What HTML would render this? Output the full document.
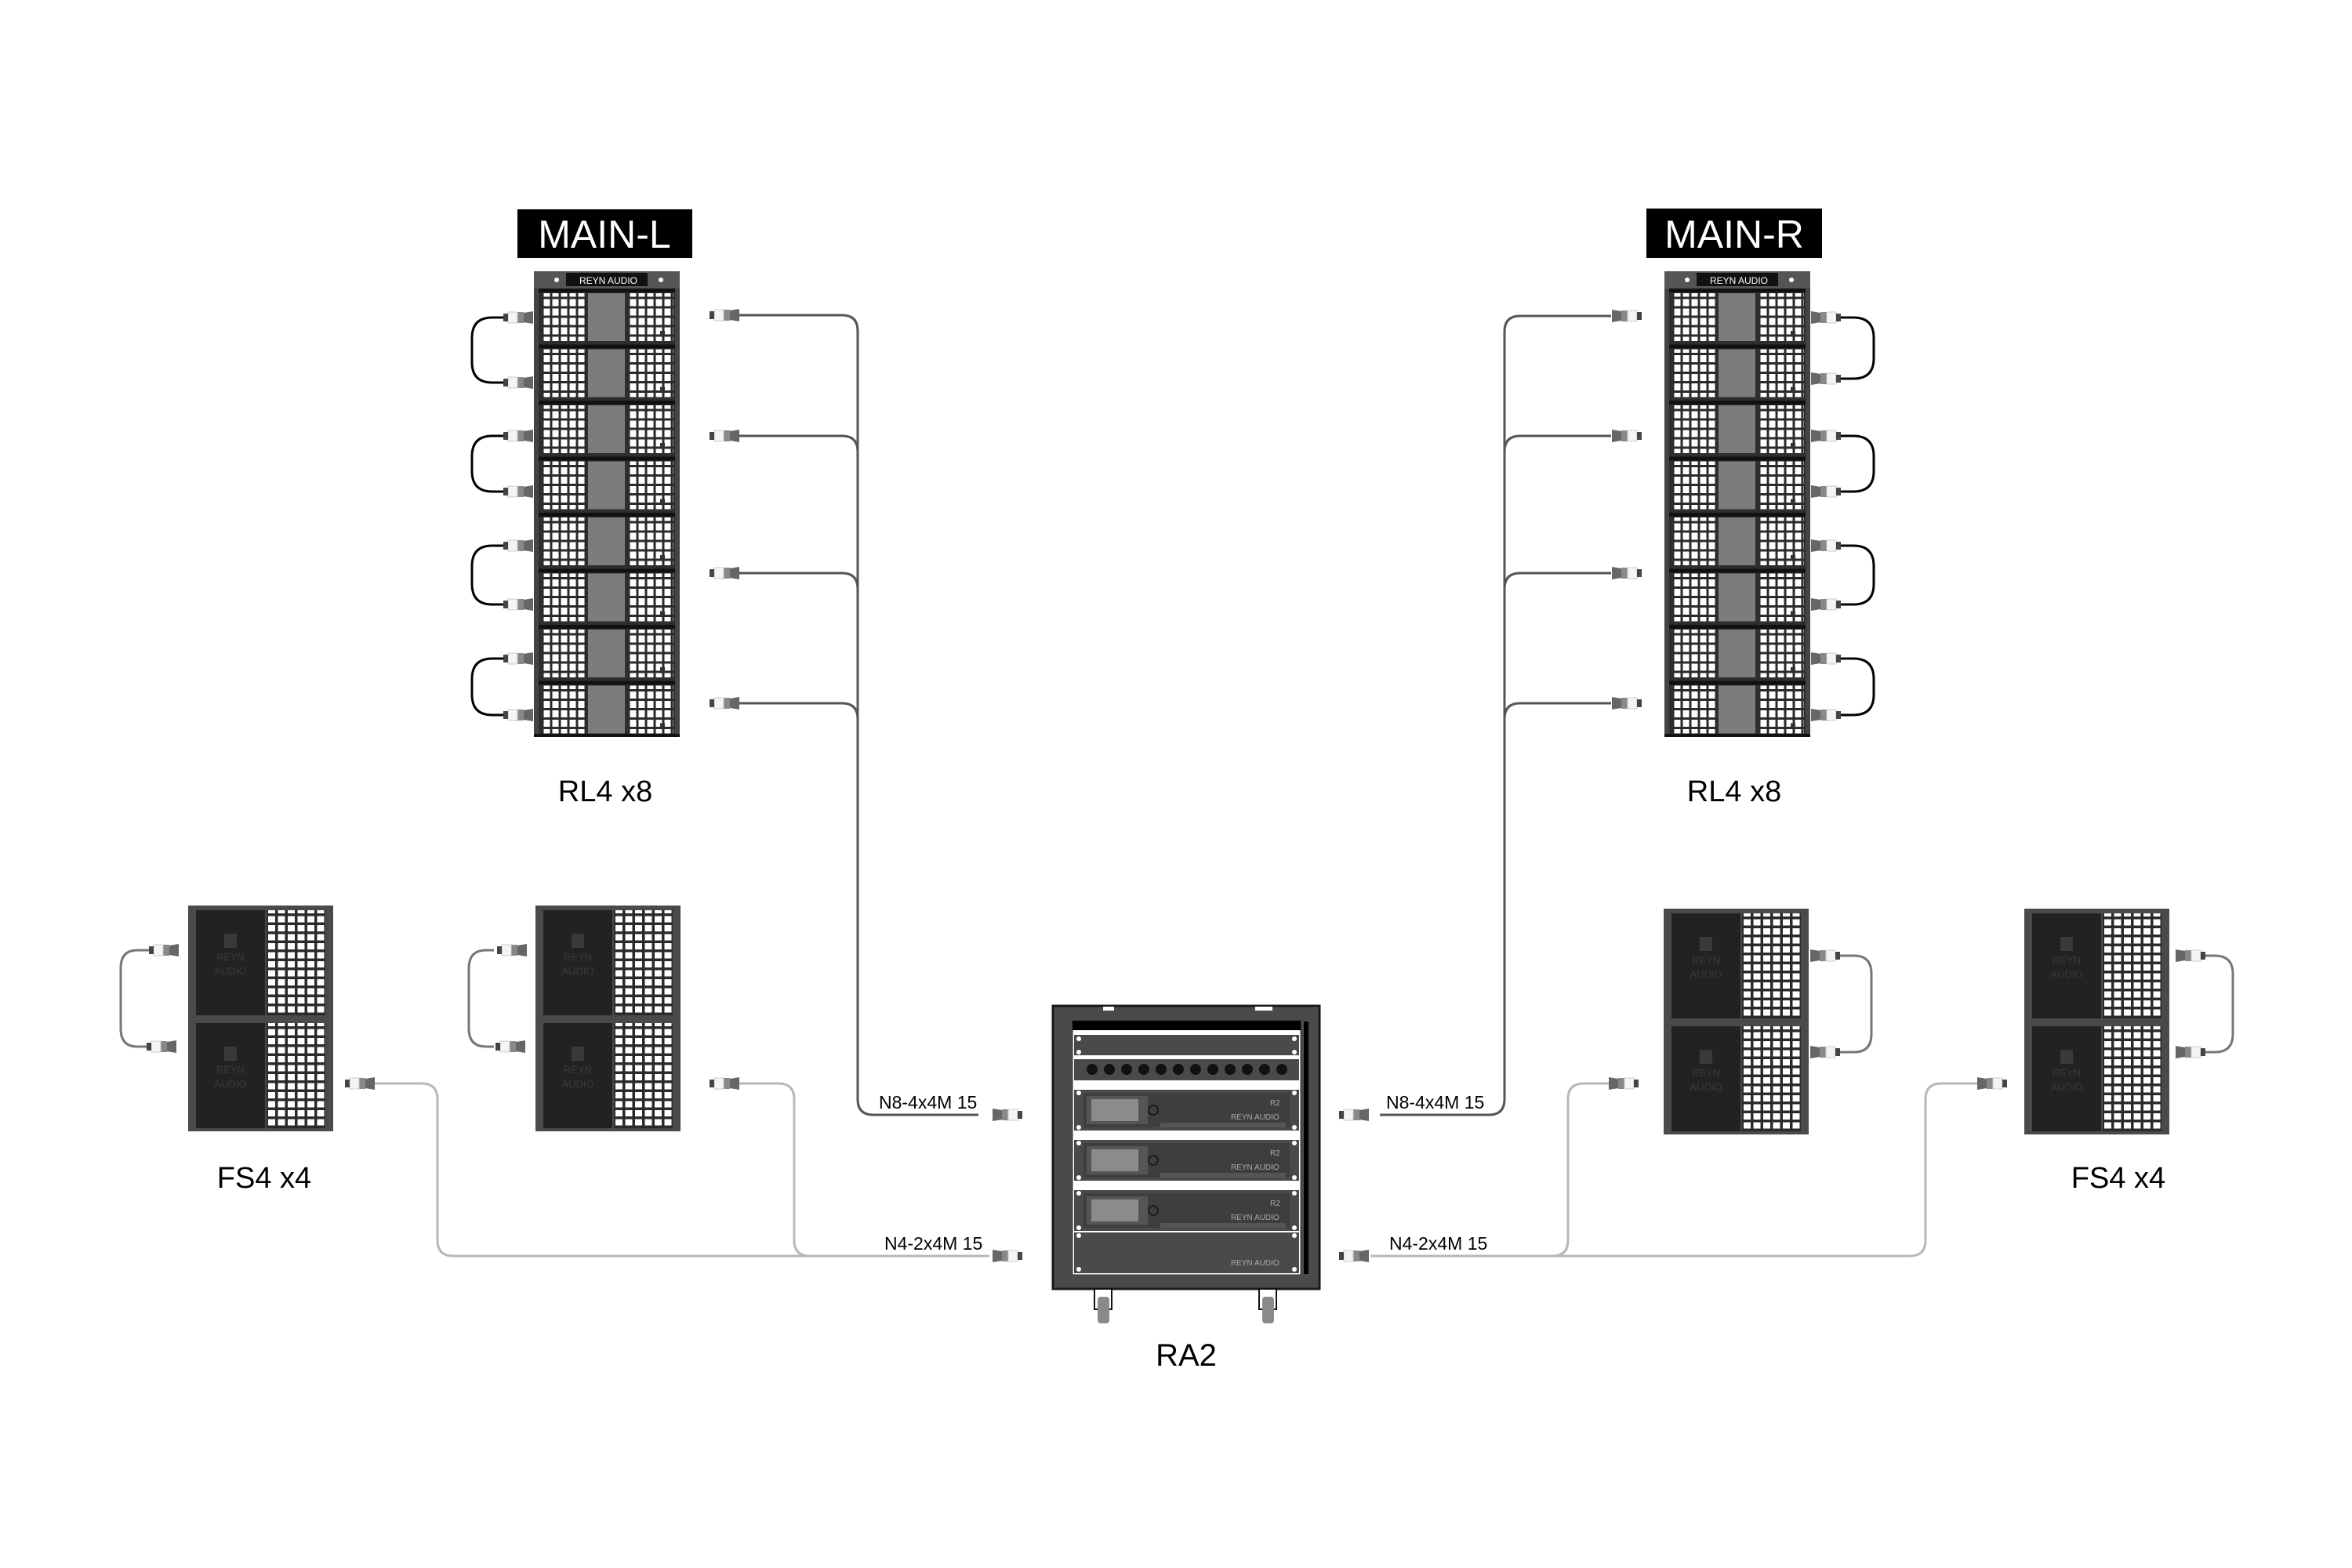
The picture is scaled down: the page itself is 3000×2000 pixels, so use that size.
<!DOCTYPE html>
<html><head><meta charset="utf-8"><style>
html,body{margin:0;padding:0;background:#fff;}
svg{display:block;}
text{font-family:"Liberation Sans","Noto Sans CJK SC",sans-serif;}
</style></head><body>
<svg width="3000" height="2000" viewBox="0 0 3000 2000" xmlns="http://www.w3.org/2000/svg">
<defs>
<pattern id="grid" x="0" y="0" width="11" height="12" patternUnits="userSpaceOnUse">
<rect width="11" height="12" fill="#2a2a2a"/><rect x="1.5" y="1.5" width="8" height="9" fill="#fff"/>
</pattern>
<pattern id="grid2" x="0" y="0" width="12.5" height="11.5" patternUnits="userSpaceOnUse">
<rect width="12.5" height="11.5" fill="#2a2a2a"/><rect x="2" y="2" width="9" height="8" fill="#fff"/>
</pattern>
<g id="rl4">
<rect x="0" y="0" width="186" height="71.5" fill="#2e2e2e"/>
<rect x="0" y="0" width="186" height="5" fill="#111"/>
<rect x="11" y="6" width="56" height="61" fill="url(#grid)"/>
<rect x="69" y="6" width="47" height="61" fill="#7c7c7c"/>
<rect x="122" y="6" width="56" height="61" fill="url(#grid)"/>
<rect x="0" y="0" width="6" height="71.5" fill="#444"/>
<rect x="180" y="0" width="6" height="71.5" fill="#444"/>
<rect x="161" y="54" width="6" height="6" fill="#333"/>
</g>
<g id="fs4">
<rect x="0" y="0" width="185" height="144" fill="#4a4a4a"/>
<rect x="10" y="6" width="88" height="134" fill="#222"/>
<rect x="100" y="6" width="75" height="134" fill="url(#grid2)"/>
<text x="54" y="70" font-size="13" fill="#3a3a3a" text-anchor="middle">REYN</text>
<text x="54" y="88" font-size="13" fill="#3a3a3a" text-anchor="middle">AUDIO</text>
<rect x="46" y="36" width="16" height="18" fill="#3a3a3a"/>
</g>
<g id="conn">
<path d="M0,-8 L12,-6 L12,6 L0,8 Z" fill="#666"/>
<rect x="12" y="-7" width="8" height="14" fill="#888"/>
<rect x="20" y="-7" width="12" height="14" fill="#f4f4f4" stroke="#ccc" stroke-width="1"/>
<rect x="32" y="-5" width="6" height="10" fill="#444"/>
</g>
<g id="amp">
<rect x="0" y="0" width="287" height="52" fill="#4a4a4a"/>
<rect x="12" y="4" width="263" height="44" fill="#3e3e3e"/>
<rect x="16" y="8" width="78" height="36" fill="#555"/>
<rect x="22" y="12" width="60" height="28" fill="#999" opacity="0.8"/>
<circle cx="101" cy="26" r="6" fill="none" stroke="#111" stroke-width="1.5"/>
<rect x="110" y="42" width="160" height="6" fill="#555"/>
<text x="250" y="20" font-size="10" fill="#aaa" font-family="Liberation Serif,serif">R2</text>
<text x="200" y="38" font-size="10" fill="#aaa" font-family="Liberation Serif,serif">REYN AUDIO</text>
<circle cx="6" cy="4" r="3" fill="#fff"/><circle cx="6" cy="48" r="3" fill="#fff"/>
<circle cx="281" cy="4" r="3" fill="#fff"/><circle cx="281" cy="48" r="3" fill="#fff"/>
</g>
</defs>

<!-- ===== MAIN-L ===== -->
<rect x="660" y="267" width="223" height="62" fill="#000"/>
<text x="771" y="316" font-size="50" fill="#fff" text-anchor="middle">MAIN-L</text>
<rect x="681" y="346" width="186" height="22" fill="#555"/>
<rect x="722" y="348" width="104" height="17" fill="#111"/>
<text x="776" y="362" font-size="12" fill="#fff" text-anchor="middle">REYN AUDIO</text>
<circle cx="710" cy="357" r="3" fill="#fff"/><circle cx="843" cy="357" r="3" fill="#fff"/>
<use href="#rl4" x="681" y="368"/><use href="#rl4" x="681" y="439.5"/>
<use href="#rl4" x="681" y="511"/><use href="#rl4" x="681" y="582.5"/>
<use href="#rl4" x="681" y="654"/><use href="#rl4" x="681" y="725.5"/>
<use href="#rl4" x="681" y="797"/><use href="#rl4" x="681" y="868.5"/>
<rect x="681" y="936" width="186" height="4" fill="#111"/>
<text x="772" y="1022" font-size="38" fill="#000" text-anchor="middle">RL4 x8</text>
<g fill="none" stroke="#000" stroke-width="3">
<path d="M645,405 H628 Q602,405 602,431 V462 Q602,488 628,488 H645"/>
<path d="M645,556 H628 Q602,556 602,582 V601 Q602,627 628,627 H645"/>
<path d="M645,696 H628 Q602,696 602,722 V745 Q602,771 628,771 H645"/>
<path d="M645,840 H628 Q602,840 602,866 V886 Q602,912 628,912 H645"/>
</g>
<g transform="translate(680,405) scale(-1,1)"><use href="#conn"/></g>
<g transform="translate(680,488) scale(-1,1)"><use href="#conn"/></g>
<g transform="translate(680,556) scale(-1,1)"><use href="#conn"/></g>
<g transform="translate(680,627) scale(-1,1)"><use href="#conn"/></g>
<g transform="translate(680,696) scale(-1,1)"><use href="#conn"/></g>
<g transform="translate(680,771) scale(-1,1)"><use href="#conn"/></g>
<g transform="translate(680,840) scale(-1,1)"><use href="#conn"/></g>
<g transform="translate(680,912) scale(-1,1)"><use href="#conn"/></g>
<g fill="none" stroke="#555" stroke-width="3">
<path d="M943,402 H1074 Q1094,402 1094,422 V1402 Q1094,1422 1114,1422 H1248"/>
<path d="M943,556 H1074 Q1094,556 1094,576"/>
<path d="M943,731 H1074 Q1094,731 1094,751"/>
<path d="M943,897 H1074 Q1094,897 1094,917"/>
</g>
<g transform="translate(943,402) scale(-1,1)"><use href="#conn"/></g>
<g transform="translate(943,556) scale(-1,1)"><use href="#conn"/></g>
<g transform="translate(943,731) scale(-1,1)"><use href="#conn"/></g>
<g transform="translate(943,897) scale(-1,1)"><use href="#conn"/></g>

<!-- ===== MAIN-R ===== -->
<rect x="2100" y="266" width="224" height="63" fill="#000"/>
<text x="2212" y="316" font-size="50" fill="#fff" text-anchor="middle">MAIN-R</text>
<rect x="2123" y="346" width="186" height="22" fill="#555"/>
<rect x="2164" y="348" width="104" height="17" fill="#111"/>
<text x="2218" y="362" font-size="12" fill="#fff" text-anchor="middle">REYN AUDIO</text>
<circle cx="2152" cy="357" r="3" fill="#fff"/><circle cx="2285" cy="357" r="3" fill="#fff"/>
<use href="#rl4" x="2123" y="368"/><use href="#rl4" x="2123" y="439.5"/>
<use href="#rl4" x="2123" y="511"/><use href="#rl4" x="2123" y="582.5"/>
<use href="#rl4" x="2123" y="654"/><use href="#rl4" x="2123" y="725.5"/>
<use href="#rl4" x="2123" y="797"/><use href="#rl4" x="2123" y="868.5"/>
<rect x="2123" y="936" width="186" height="4" fill="#111"/>
<text x="2212" y="1022" font-size="38" fill="#000" text-anchor="middle">RL4 x8</text>
<g fill="none" stroke="#000" stroke-width="3">
<path d="M2345,405 H2364 Q2390,405 2390,431 V457 Q2390,483 2364,483 H2345"/>
<path d="M2345,556 H2364 Q2390,556 2390,582 V601 Q2390,627 2364,627 H2345"/>
<path d="M2345,696 H2364 Q2390,696 2390,722 V745 Q2390,771 2364,771 H2345"/>
<path d="M2345,840 H2364 Q2390,840 2390,866 V886 Q2390,912 2364,912 H2345"/>
</g>
<use href="#conn" x="2310" y="405"/><use href="#conn" x="2310" y="483"/>
<use href="#conn" x="2310" y="556"/><use href="#conn" x="2310" y="627"/>
<use href="#conn" x="2310" y="696"/><use href="#conn" x="2310" y="771"/>
<use href="#conn" x="2310" y="840"/><use href="#conn" x="2310" y="912"/>
<g fill="none" stroke="#555" stroke-width="3">
<path d="M2055,403 H1939 Q1919,403 1919,423 V1402 Q1919,1422 1899,1422 H1760"/>
<path d="M2055,556 H1939 Q1919,556 1919,576"/>
<path d="M2055,731 H1939 Q1919,731 1919,751"/>
<path d="M2055,897 H1939 Q1919,897 1919,917"/>
</g>
<use href="#conn" x="2056" y="403"/><use href="#conn" x="2056" y="556"/>
<use href="#conn" x="2056" y="731"/><use href="#conn" x="2056" y="897"/>

<!-- ===== FS4 left ===== -->
<g transform="translate(0,-5)">
<use href="#fs4" x="240" y="1160"/><use href="#fs4" x="240" y="1304"/>
<use href="#fs4" x="683" y="1160"/><use href="#fs4" x="683" y="1304"/>
<g fill="none" stroke="#777" stroke-width="3">
<path d="M190,1217 H175 Q154,1217 154,1240 V1317 Q154,1340 175,1340 H190"/>
<path d="M630,1217 H620 Q598,1217 598,1240 V1317 Q598,1340 620,1340 H630"/>
</g>
<g transform="translate(228,1217) scale(-1,1)"><use href="#conn"/></g>
<g transform="translate(225,1340) scale(-1,1)"><use href="#conn"/></g>
<g transform="translate(672,1217) scale(-1,1)"><use href="#conn"/></g>
<g transform="translate(670,1340) scale(-1,1)"><use href="#conn"/></g>
</g>
<!-- ===== FS4 right ===== -->
<g transform="translate(-13,-4)">
<use href="#fs4" x="2135" y="1163"/><use href="#fs4" x="2135" y="1307"/>
<use href="#fs4" x="2595" y="1163"/><use href="#fs4" x="2595" y="1307"/>
<g fill="none" stroke="#777" stroke-width="3">
<path d="M2335,1223 H2378 Q2400,1223 2400,1246 V1323 Q2400,1346 2378,1346 H2335"/>
<path d="M2800,1223 H2838 Q2861,1223 2861,1246 V1323 Q2861,1346 2838,1346 H2800"/>
</g>
<use href="#conn" x="2322" y="1223"/><use href="#conn" x="2322" y="1346"/>
<use href="#conn" x="2788" y="1223"/><use href="#conn" x="2788" y="1346"/>
</g>
<!-- bottom cables -->
<g fill="none" stroke="#b8b8b8" stroke-width="3">
<path d="M476,1382 H538 Q558,1382 558,1402 V1582 Q558,1602 578,1602 H1262"/>
<path d="M940,1382 H993 Q1013,1382 1013,1402 V1582 Q1013,1602 1033,1602"/>
<path d="M2052,1382 H2020 Q2000,1382 2000,1402 V1582 Q2000,1602 1980,1602 H1748"/>
<path d="M2522,1382 H2476 Q2456,1382 2456,1402 V1582 Q2456,1602 2436,1602 H1980"/>
</g>
<g transform="translate(478,1382) scale(-1,1)"><use href="#conn"/></g>
<g transform="translate(943,1382) scale(-1,1)"><use href="#conn"/></g>
<use href="#conn" x="2052" y="1382"/><use href="#conn" x="2522" y="1382"/>
<text x="337" y="1515" font-size="38" fill="#000" text-anchor="middle">FS4 x4</text>
<text x="2702" y="1515" font-size="38" fill="#000" text-anchor="middle">FS4 x4</text>

<text x="1121" y="1414" font-size="23" fill="#000">N8-4x4M 15</text>
<text x="1128" y="1594" font-size="23" fill="#000">N4-2x4M 15</text>
<text x="1768" y="1414" font-size="23" fill="#000">N8-4x4M 15</text>
<text x="1772" y="1594" font-size="23" fill="#000">N4-2x4M 15</text>
<use href="#conn" x="1266" y="1422"/>
<use href="#conn" x="1266" y="1602"/>
<g transform="translate(1746,1422) scale(-1,1)"><use href="#conn"/></g>
<g transform="translate(1746,1602) scale(-1,1)"><use href="#conn"/></g>

<!-- ===== RACK ===== -->
<rect x="1343" y="1283" width="340" height="361" fill="#4a4a4a" stroke="#1a1a1a" stroke-width="3"/>
<rect x="1407" y="1284" width="14" height="5" fill="#fff"/><rect x="1601" y="1284" width="22" height="5" fill="#fff"/>
<rect x="1368" y="1302" width="291" height="324" fill="#fff" stroke="#333" stroke-width="1"/>
<rect x="1368" y="1302" width="291" height="12" fill="#000"/>
<rect x="1663" y="1303" width="6" height="322" fill="#000"/>
<rect x="1370" y="1320" width="287" height="26" fill="#4a4a4a"/>
<circle cx="1376" cy="1325" r="3" fill="#fff"/><circle cx="1376" cy="1342" r="3" fill="#fff"/>
<circle cx="1651" cy="1325" r="3" fill="#fff"/><circle cx="1651" cy="1342" r="3" fill="#fff"/>
<rect x="1370" y="1351" width="287" height="27" fill="#4a4a4a"/>
<g fill="#111">
<circle cx="1393" cy="1364" r="7"/><circle cx="1415" cy="1364" r="7"/><circle cx="1437" cy="1364" r="7"/><circle cx="1459" cy="1364" r="7"/>
<circle cx="1481" cy="1364" r="7"/><circle cx="1503" cy="1364" r="7"/><circle cx="1525" cy="1364" r="7"/><circle cx="1547" cy="1364" r="7"/>
<circle cx="1569" cy="1364" r="7"/><circle cx="1591" cy="1364" r="7"/><circle cx="1613" cy="1364" r="7"/><circle cx="1635" cy="1364" r="7"/>
</g>
<use href="#amp" x="1370" y="1390"/>
<use href="#amp" x="1370" y="1454"/>
<use href="#amp" x="1370" y="1518"/>
<rect x="1370" y="1572" width="287" height="52" fill="#4a4a4a"/>
<text x="1570" y="1614" font-size="10" fill="#aaa" font-family="Liberation Serif,serif">REYN AUDIO</text>
<circle cx="1376" cy="1576" r="3" fill="#fff"/><circle cx="1376" cy="1619" r="3" fill="#fff"/>
<circle cx="1651" cy="1576" r="3" fill="#fff"/><circle cx="1651" cy="1619" r="3" fill="#fff"/>
<rect x="1396" y="1644" width="22" height="26" fill="#fff" stroke="#111" stroke-width="2"/>
<rect x="1400" y="1654" width="15" height="34" rx="4" fill="#8a8a8a"/>
<rect x="1606" y="1644" width="22" height="26" fill="#fff" stroke="#111" stroke-width="2"/>
<rect x="1610" y="1654" width="15" height="34" rx="4" fill="#8a8a8a"/>
<text x="1513" y="1742" font-size="40" fill="#000" text-anchor="middle">RA2</text>
</svg>
</body></html>
